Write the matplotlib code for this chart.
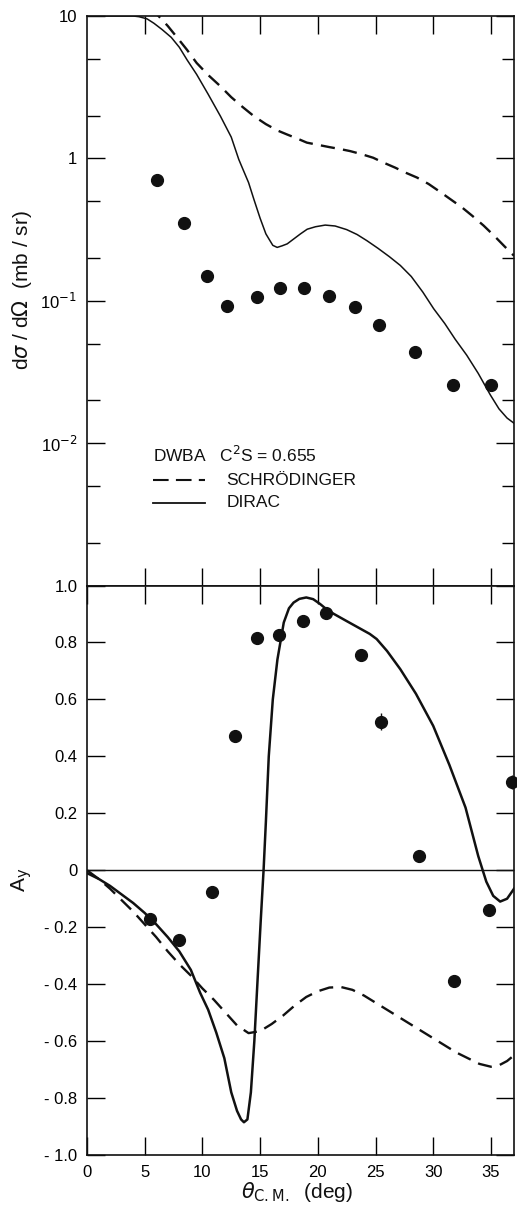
import numpy as np
import matplotlib.pyplot as plt
from matplotlib.ticker import FixedLocator, FixedFormatter, NullFormatter

plt.rcParams['font.family'] = ['Liberation Sans', 'DejaVu Sans']

# ---- cross section data (mb/sr) ----
theta_xs = [6.07, 8.38, 10.4, 12.17, 14.7, 16.7, 18.8, 21.0, 23.2, 25.3, 28.45, 31.7, 35.0]
xs_data = [0.705, 0.353, 0.150, 0.092, 0.107, 0.122, 0.122, 0.108, 0.090, 0.0676, 0.0435, 0.0256, 0.0256]

theta_dirac_xs = [0, 2, 4, 4.5, 5.2, 5.8, 6.5, 7.3, 8.0, 8.67, 9.5, 10.5, 11.56, 12.5, 13.15,
                  13.44, 14.0, 14.46, 15.0, 15.5, 15.76, 16.1, 16.48, 16.9, 17.35, 18.0, 18.5,
                  19.08, 19.8, 20.64, 21.5, 22.5, 23.4, 24.26, 25.2, 26.2, 27.15, 28.1, 29.1,
                  30.04, 31.0, 31.9, 32.9, 33.9, 34.95, 35.7, 36.4, 37.0]
dirac_xs = [10, 10, 10, 9.89, 9.55, 8.89, 8.04, 7.08, 6.03, 4.92, 3.89, 2.82, 1.98, 1.41, 0.984,
            0.865, 0.676, 0.516, 0.380, 0.295, 0.272, 0.245, 0.237, 0.243, 0.251, 0.275, 0.295,
            0.318, 0.331, 0.340, 0.335, 0.316, 0.292, 0.264, 0.234, 0.204, 0.177, 0.148, 0.115,
            0.0879, 0.0692, 0.0537, 0.0415, 0.0309, 0.0218, 0.0174, 0.0150, 0.0138]

theta_schr_xs = [5.5, 6.2, 7.0, 8.0, 8.67, 9.5, 10.5, 11.56, 12.5, 13.5, 14.46, 15.5, 16.5, 17.35,
                 18.2, 19.05, 20.0, 21.0, 22.0, 22.8, 23.8, 24.8, 25.7, 26.7, 27.6, 28.6, 29.6,
                 30.5, 31.5, 32.5, 33.4, 34.37, 35.3, 36.2, 37.0]
schr_xs = [11.5, 10.0, 8.51, 6.76, 5.78, 4.68, 3.85, 3.21, 2.69, 2.29, 1.98, 1.74, 1.57, 1.47,
           1.38, 1.29, 1.245, 1.20, 1.16, 1.125, 1.07, 1.01, 0.933, 0.861, 0.794, 0.733, 0.661,
           0.589, 0.516, 0.452, 0.394, 0.337, 0.285, 0.240, 0.207]

# ---- analyzing power data ----
theta_ay = [5.46, 7.95, 10.84, 12.84, 14.72, 16.65, 18.68, 20.7, 23.7, 25.5, 28.8, 31.8, 34.8, 36.8]
ay_data = [-0.170, -0.246, -0.077, 0.472, 0.815, 0.827, 0.876, 0.903, 0.757, 0.521, 0.05, -0.39, -0.14, 0.31]
ay_err = [0.015, 0.015, 0.02, 0.02, 0.02, 0.02, 0.02, 0.02, 0.02, 0.03, 0.02, 0.02, 0.02, 0.025]

theta_dirac_ay = [0, 1, 2, 3, 4, 5, 6, 7, 8, 9, 9.8, 10.5, 11.2, 11.9, 12.5, 13.0, 13.35, 13.6,
                  13.9, 14.2, 14.5, 14.8, 15.05, 15.3, 15.5, 15.75, 16.1, 16.5, 17.05, 17.5, 17.9,
                  18.4, 19.0, 19.6, 20.2, 20.8, 21.4, 22.5, 23.7, 24.5, 25.1, 26.0, 27.15, 28.5,
                  30.0, 31.4, 32.8, 33.9, 34.6, 35.2, 35.8, 36.4, 37.0]
dirac_ay = [-0.01, -0.03, -0.055, -0.085, -0.115, -0.15, -0.19, -0.235, -0.285, -0.35, -0.43,
            -0.49, -0.57, -0.66, -0.78, -0.845, -0.875, -0.885, -0.875, -0.78, -0.60, -0.37,
            -0.18, 0.0, 0.17, 0.40, 0.60, 0.74, 0.87, 0.92, 0.94, 0.953, 0.958, 0.952, 0.935,
            0.915, 0.90, 0.875, 0.848, 0.83, 0.812, 0.77, 0.706, 0.62, 0.507, 0.37, 0.22, 0.05,
            -0.04, -0.09, -0.11, -0.10, -0.065]

theta_schr_ay = [0, 1, 2, 3, 4, 5, 6, 7, 8, 9, 10, 11, 12, 13, 14, 15, 16, 17, 18, 19, 20, 21,
                 22, 23, 24, 25, 26, 27, 28, 29, 30, 31, 32, 33, 34, 35, 35.7, 36.4, 37.0]
schr_ay = [0.0, -0.03, -0.065, -0.105, -0.145, -0.19, -0.235, -0.285, -0.33, -0.37, -0.415,
           -0.455, -0.50, -0.545, -0.572, -0.565, -0.54, -0.51, -0.475, -0.445, -0.425, -0.412,
           -0.41, -0.42, -0.44, -0.465, -0.49, -0.515, -0.54, -0.565, -0.59, -0.615, -0.64,
           -0.66, -0.68, -0.69, -0.685, -0.67, -0.65]

xs_ticks = [10, 1, 0.1, 0.01]
xs_ticklabels = ['10', '1', '10$^{-1}$', '10$^{-2}$']
ay_ticks = [1.0, 0.8, 0.6, 0.4, 0.2, 0.0, -0.2, -0.4, -0.6, -0.8, -1.0]
ay_ticklabels = ['1.0', '0.8', '0.6', '0.4', '0.2', '0', '- 0.2', '- 0.4', '- 0.6', '- 0.8', '- 1.0']
theta_ticks = [0, 5, 10, 15, 20, 25, 30, 35]

W, H = 517, 1210
fig = plt.figure(figsize=(W / 100, H / 100), dpi=100)
left, right = 87 / W, 514 / W
ax1 = fig.add_axes([left, 1 - 585.5 / H, right - left, 569.5 / H])
ax2 = fig.add_axes([left, 1 - 1155 / H, right - left, 569.5 / H])

dash = (0, (6, 3.5))
ink = '#111111'

# top panel
ax1.set_yscale('log')
ax1.plot(theta_dirac_xs, dirac_xs, color=ink, lw=1.1)
ax1.plot(theta_schr_xs, schr_xs, color=ink, lw=1.7, linestyle=dash)
ax1.plot(theta_xs, xs_data, 'o', color=ink, ms=8.5, clip_on=False)
ax1.set_xlim(0, 37.0)
ax1.set_ylim(1e-3, 10)
ax1.yaxis.set_major_locator(FixedLocator(xs_ticks))
ax1.yaxis.set_major_formatter(FixedFormatter(xs_ticklabels))
ax1.yaxis.set_minor_locator(FixedLocator([5, 2, 0.5, 0.2, 0.05, 0.02, 0.005, 0.002]))
ax1.yaxis.set_minor_formatter(NullFormatter())
ax1.set_xticks(theta_ticks[1:])
ax1.set_xticklabels([])
ax1.tick_params(axis='both', which='major', direction='in', length=13, width=1.0,
                top=True, right=True, labelsize=12, pad=7)
ax1.tick_params(axis='y', which='minor', direction='in', length=9, width=1.0, right=True)

# legend drawn by hand
ax1.text(0.155, 0.229, 'DWBA   C$^2$S = 0.655', transform=ax1.transAxes, fontsize=12.5,
         va='center', ha='left', color=ink)
ax1.plot([0.155, 0.276], [0.185, 0.185], transform=ax1.transAxes, color=ink, lw=1.5,
         linestyle=(0, (7.5, 3.5)))
ax1.plot([0.155, 0.276], [0.145, 0.145], transform=ax1.transAxes, color=ink, lw=1.3)
ax1.text(0.326, 0.185, 'SCHRÖDINGER', transform=ax1.transAxes, fontsize=12.5,
         va='center', ha='left', color=ink)
ax1.text(0.326, 0.145, 'DIRAC', transform=ax1.transAxes, fontsize=12.5,
         va='center', ha='left', color=ink)

# bottom panel
ax2.axhline(0, color=ink, lw=1.0)
ax2.plot(theta_dirac_ay, dirac_ay, color=ink, lw=1.8)
ax2.plot(theta_schr_ay, schr_ay, color=ink, lw=1.7, linestyle=dash)
ax2.errorbar(theta_ay, ay_data, yerr=ay_err, fmt='o', color=ink, ms=8.5, elinewidth=1.0,
             capsize=0, clip_on=False)
ax2.set_xlim(0, 37.0)
ax2.set_ylim(-1.0, 1.0)
ax2.set_yticks(ay_ticks)
ax2.set_yticklabels(ay_ticklabels)
ax2.set_xticks(theta_ticks)
ax2.set_xticklabels([str(t) for t in theta_ticks])
ax2.tick_params(axis='both', which='major', direction='in', length=13, width=1.0,
                top=True, right=True, labelsize=12, pad=7)

for ax in (ax1, ax2):
    for s in ax.spines.values():
        s.set_linewidth(1.2)
        s.set_color(ink)

fig.text(22 / W, 1 - 290 / H, r'd$\sigma$ / d$\Omega$  (mb / sr)', rotation=90,
         ha='center', va='center', fontsize=15, color=ink)
fig.text(22 / W, 1 - 880 / H, r'A$_{\rm y}$', rotation=90, ha='center', va='center',
         fontsize=15, color=ink)
fig.text(297 / W, 1 - 1192 / H, r'$\theta_{\rm C.M.}$  (deg)', ha='center', va='center',
         fontsize=15, color=ink)

fig.savefig('out.png', dpi=100)
